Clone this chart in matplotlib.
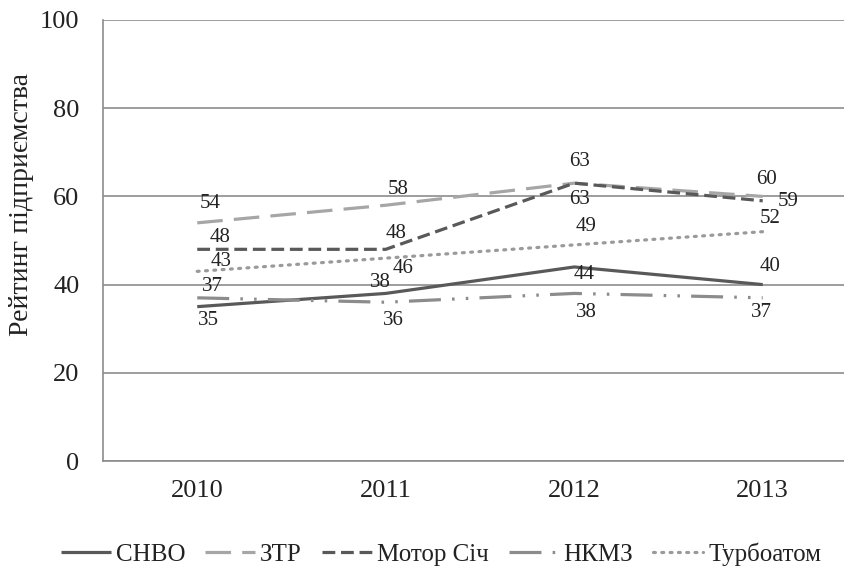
import matplotlib
matplotlib.use("Agg")
import matplotlib.pyplot as plt

plt.rcParams['font.family'] = ['Liberation Serif', 'DejaVu Serif']

# Datos
anios = ["2010", "2011", "2012", "2013"]
snvo = [35, 38, 44, 40]
ztr = [54, 58, 63, 60]
motor = [48, 48, 63, 59]
nkmz = [37, 36, 38, 37]
turbo = [43, 46, 49, 52]
nombres = ["СНВО", "ЗТР", "Мотор Січ", "НКМЗ", "Турбоатом"]

# estilos de cada linea
colores = ["#595959", "#a6a6a6", "#595959", "#8c8c8c", "#9a9a9a"]
trazos = [(0, ()), (0, (8, 3.5)), (0, (4, 1.8)), (0, (10, 3.5, 0.8, 3.5, 0.8, 3.5)), (0, (0.6, 2))]
# desplazamiento de las etiquetas (pixeles)
desp = [
    [(11, -14), (-5, 11), (10, -8), (7, 18)],
    [(13, 19), (12, 16), (5, 22), (4, 17)],
    [(23, 12), (10, 16), (5, -16), (25, -1)],
    [(15, 11), (8, -18), (12, -19), (-1, -15)],
    [(24, 10), (17, -10), (12, 18), (7, 13)],
]

fig = plt.figure(figsize=(8.45, 5.69), dpi=100)
ax = fig.add_axes([103 / 845, 1 - 461 / 569, 742 / 845, 441 / 569])

x = range(len(anios))
series = [snvo, ztr, motor, nkmz, turbo]
for i, s in enumerate(series):
    cap = "round" if i == 4 else "butt"
    ax.plot(x, s, color=colores[i], linestyle=trazos[i], linewidth=2.3,
            label=nombres[i], dash_capstyle=cap)
    for j, v in enumerate(s):
        ax.annotate(str(v), (j, v), xytext=desp[i][j], textcoords="offset pixels",
                    ha="center", va="center", fontsize=15, color="#222222")

ax.set_xlim(-0.5, 3.5 - 12 / 188.7)
ax.set_ylim(0, 100)
ax.set_yticks([0, 20, 40, 60, 80, 100])
ax.set_xticks(list(x))
ax.set_xticklabels(anios)
ax.tick_params(axis="both", length=0, labelsize=19, colors="#222222")
ax.tick_params(axis="y", pad=17)
ax.tick_params(axis="x", pad=14)
ax.grid(axis="y", color="#8c8c8c", linewidth=1.2)
ax.set_axisbelow(True)
for lado in ["top", "right"]:
    ax.spines[lado].set_visible(False)
ax.spines["left"].set_color("#8c8c8c")
ax.spines["bottom"].set_color("#8c8c8c")
ax.spines["left"].set_linewidth(1.2)
ax.spines["bottom"].set_linewidth(1.2)

fig.text(22 / 845, 1 - 204 / 569, "Рейтинг підприємства", rotation=90,
         ha="center", va="center", fontsize=20, color="#222222")

fig.legend(loc="center", bbox_to_anchor=(0.522, 0.026), ncol=5, frameon=False,
           fontsize=18, handlelength=2.0, handletextpad=0.2, columnspacing=0.8,
           labelcolor="#222222")

fig.savefig("out.png", dpi=100)
